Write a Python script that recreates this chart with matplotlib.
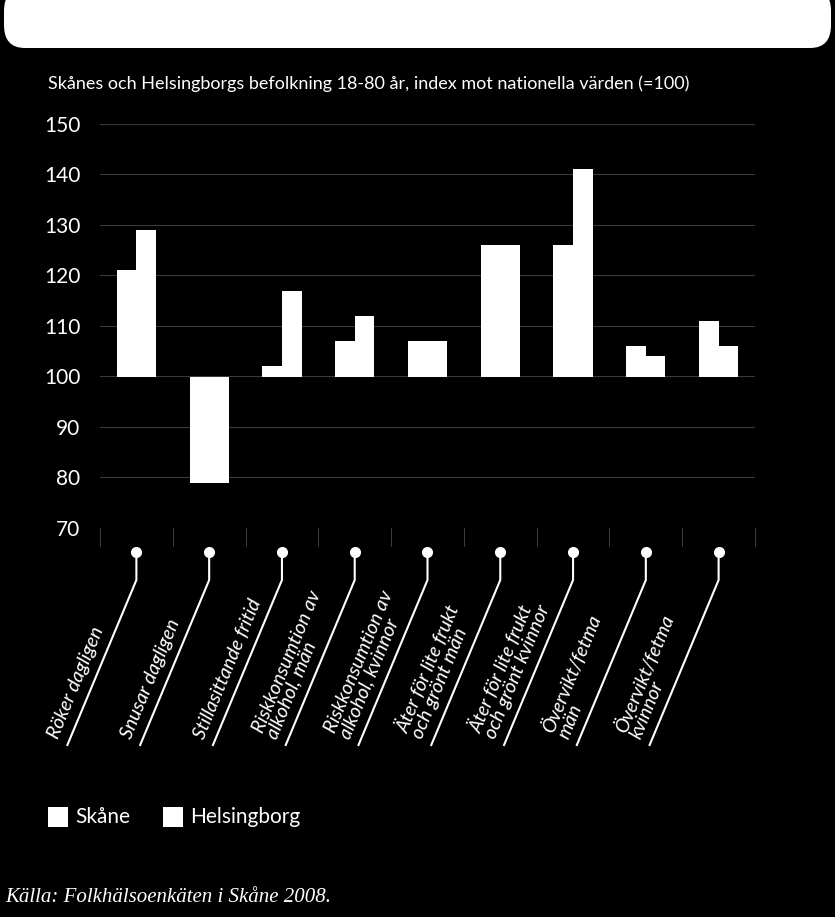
import numpy as np
import matplotlib
matplotlib.use('Agg')
import matplotlib.pyplot as plt
from matplotlib.patches import FancyBboxPatch, Rectangle
from matplotlib.lines import Line2D

categories = ['Röker dagligen', 'Snusar dagligen', 'Stillasittande fritid',
              'Riskkonsumtion av\nalkohol, män', 'Riskkonsumtion av\nalkohol, kvinnor',
              'Äter för lite frukt\noch grönt män', 'Äter för lite frukt\noch grönt kvinnor',
              'Övervikt/fetma\nmän', 'Övervikt/fetma\nkvinnor']
skane = [121, 79, 102, 107, 107, 126, 126, 106, 111]
helsingborg = [129, 79, 117, 112, 107, 126, 141, 104, 106]
yticks = [70, 80, 90, 100, 110, 120, 130, 140, 150]

W, H = 835, 917
fig = plt.figure(figsize=(W / 100, H / 100), dpi=100, facecolor='black')

# white rounded header strip
fig.patches.append(FancyBboxPatch((4 / W, 1 - 48 / H), (W - 8) / W, 60 / H,
                                  boxstyle='round,pad=0,rounding_size=0.025',
                                  transform=fig.transFigure, fc='white', ec='none'))

ax = fig.add_axes([100 / W, 1 - 528 / H, 655 / W, 404 / H], facecolor='black')
x = np.arange(len(categories))
w = 0.27
ax.bar(x - w / 2, np.array(skane) - 100, w, bottom=100, color='white')
ax.bar(x + w / 2, np.array(helsingborg) - 100, w, bottom=100, color='white')
ax.set_xlim(-0.5, len(categories) - 0.5)
ax.set_ylim(70, 150)
ax.set_yticks(yticks)
ax.set_yticklabels([str(t) for t in yticks], color='white', fontsize=15, fontfamily='Lato')
ax.tick_params(axis='y', length=0, pad=14)
ax.set_xticks([])
ax.grid(axis='y', color='#3a3a3a', lw=0.8)
ax.set_axisbelow(True)
for s in ax.spines.values():
    s.set_visible(False)
# small separators below the axis
for b in np.arange(-0.5, len(categories), 1.0):
    ax.plot([b, b], [70, 66.5], color='#3a3a3a', lw=0.8, clip_on=False)

fig.text(48 / W, 1 - 84 / H,
         'Skånes och Helsingborgs befolkning 18-80 år, index mot nationella värden (=100)',
         color='white', fontsize=13, fontfamily='Lato', va='center')

# callout lines and rotated labels
fig.canvas.draw()
for i, lab in enumerate(categories):
    px = ax.transData.transform((i, 100))[0]
    dot_y, knee_y, end_y = H - 552, H - 580, H - 745
    end_x = px - 69
    fig.lines.append(Line2D([px, px, end_x], [dot_y, knee_y, end_y], color='white', lw=1.5,
                            transform=None))
    fig.lines.append(Line2D([px], [dot_y], marker='o', ms=7, color='white', transform=None))
    fig.text((end_x - 6) / W, (end_y + 4) / H, lab, rotation=67.5, rotation_mode='anchor',
             ha='left', va='bottom', color='white', fontsize=14, fontstyle='italic',
             fontfamily='Lato', linespacing=0.9)

# legend
for lx, name in [(48, 'Skåne'), (163, 'Helsingborg')]:
    fig.patches.append(Rectangle((lx / W, 1 - 827 / H), 20 / W, 20 / H, fc='white', ec='none',
                                 transform=fig.transFigure))
    fig.text((lx + 27) / W, 1 - 817 / H, name, color='white', fontsize=15,
             fontfamily='Lato', va='center')

fig.text(5 / W, 1 - 897 / H, 'Källa: Folkhälsoenkäten i Skåne 2008.', color='white',
         fontsize=15, fontstyle='italic', fontfamily='Liberation Serif', va='center')

fig.savefig('out.png', dpi=100, facecolor='black')
